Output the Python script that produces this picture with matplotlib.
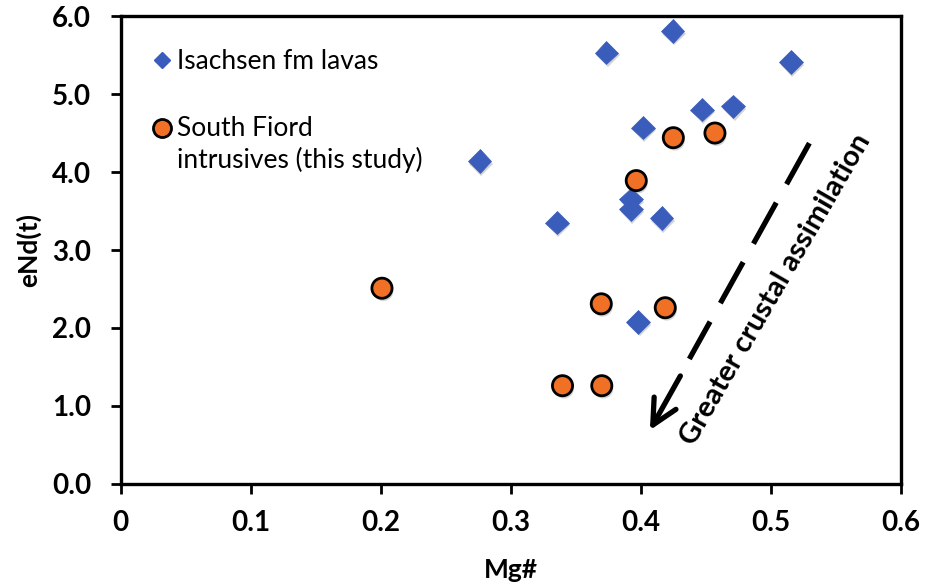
import matplotlib
matplotlib.use("Agg")
import matplotlib.pyplot as plt
import matplotlib.patheffects as pe

plt.rcParams['font.family'] = ['Lato', 'DejaVu Sans']

# Isachsen fm lavas (Mg#, eNd(t))
lava_mg = [0.4245, 0.3735, 0.5155, 0.447, 0.471, 0.4017, 0.276, 0.3925, 0.3925, 0.416, 0.3355, 0.398]
lava_end = [5.81, 5.53, 5.41, 4.80, 4.84, 4.57, 4.14, 3.65, 3.52, 3.41, 3.35, 2.08]

# South Fiord intrusives (this study)
sf_mg = [0.425, 0.457, 0.3965, 0.201, 0.3696, 0.4188, 0.3398, 0.370]
sf_end = [4.44, 4.50, 3.89, 2.51, 2.31, 2.26, 1.26, 1.26]

x_ticks = [0, 0.1, 0.2, 0.3, 0.4, 0.5, 0.6]
x_tick_labels = ['0', '0.1', '0.2', '0.3', '0.4', '0.5', '0.6']
y_ticks = [0.0, 1.0, 2.0, 3.0, 4.0, 5.0, 6.0]
y_tick_labels = ['0.0', '1.0', '2.0', '3.0', '4.0', '5.0', '6.0']

blue = '#3A5DBB'
orange = '#F07125'

fig = plt.figure(figsize=(9.25, 5.87), dpi=100)
ax = fig.add_axes([0.1303, 0.1755, 0.974 - 0.1303, 0.9727 - 0.1755])

shadow = [pe.SimplePatchShadow(offset=(1, -2), alpha=0.25, shadow_rgbFace='#555555'), pe.Normal()]

ax.plot(lava_mg, lava_end, linestyle='none', marker='D', markersize=12,
        markerfacecolor=blue, markeredgecolor=blue, markeredgewidth=0.5,
        path_effects=shadow, zorder=3)
ax.plot(sf_mg, sf_end, linestyle='none', marker='o', markersize=14.5,
        markerfacecolor=orange, markeredgecolor='black', markeredgewidth=2.0,
        path_effects=shadow, zorder=4)

ax.set_xlim(0, 0.6)
ax.set_ylim(0, 6.0)
ax.set_xticks(x_ticks)
ax.set_xticklabels(x_tick_labels)
ax.set_yticks(y_ticks)
ax.set_yticklabels(y_tick_labels)

for s in ax.spines.values():
    s.set_linewidth(2.4)
    s.set_color('black')

ax.tick_params(axis='both', direction='out', length=7, width=2, labelsize=20)
ax.tick_params(axis='y', pad=14)
ax.tick_params(axis='x', pad=12)
for lab in ax.get_xticklabels() + ax.get_yticklabels():
    lab.set_fontweight('bold')

ax.set_xlabel('Mg#', fontsize=19, fontweight='bold')
ax.xaxis.set_label_coords(0.5, -0.2009)
ax.xaxis.label.set_va('baseline')
ax.set_ylabel('eNd(t)', fontsize=19, fontweight='bold')
ax.yaxis.set_label_coords(-0.1185, 0.5)
ax.yaxis.label.set_va('center')

# Legend (manual, in axes)
ax.plot([0.0317], [5.43], linestyle='none', marker='D', markersize=8,
        markerfacecolor=blue, markeredgecolor=blue, clip_on=False, zorder=5)
ax.text(0.0432, 5.42, 'Isachsen fm lavas', fontsize=19, va='center', ha='left')
ax.plot([0.0317], [4.56], linestyle='none', marker='o', markersize=13,
        markerfacecolor=orange, markeredgecolor='black', markeredgewidth=2.0, zorder=5)
ax.text(0.0432, 4.56, 'South Fiord', fontsize=19, va='center', ha='left')
ax.text(0.0432, 4.16, 'intrusives (this study)', fontsize=19, va='center', ha='left')

# Dashed arrow
tail = (0.5296, 4.37)
dash_end = (0.4373, 1.603)
head_start = (0.4304, 1.385)
tip = (0.407, 0.69)
ax.plot([tail[0], dash_end[0]], [tail[1], dash_end[1]], color='black', linewidth=3.8,
        dashes=(8.9, 4.0), solid_capstyle='butt', dash_capstyle='butt', zorder=2)
ax.annotate('', xy=tip, xytext=head_start,
            arrowprops=dict(arrowstyle='->,head_length=0.9,head_width=0.45',
                            color='black', linewidth=3.8, shrinkA=0, shrinkB=0,
                            mutation_scale=20),
            zorder=2)

ax.text(0.5035, 2.49, 'Greater crustal assimilation', fontsize=21, fontweight='bold',
        rotation=60, rotation_mode='anchor', ha='center', va='center')

fig.savefig('out.png', dpi=100)
